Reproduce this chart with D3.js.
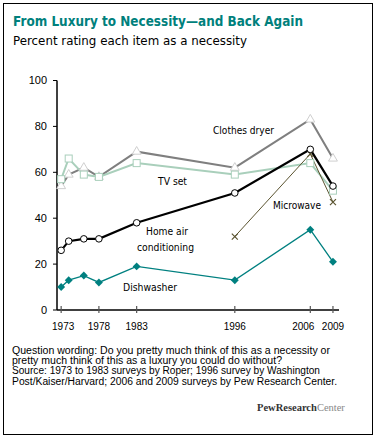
<!DOCTYPE html>
<html><head><meta charset="utf-8">
<script src="https://cdn.jsdelivr.net/npm/d3@7"></script>
<style>body{margin:0;background:#fff}svg{display:block}</style>
</head><body>
<svg id="c" width="378" height="438"></svg>
<script>
const years = [1973, 1974, 1976, 1978, 1983, 1996, 2006, 2009];
const tickYears = [1973, 1978, 1983, 1996, 2006, 2009];
const yTicks = [0, 20, 40, 60, 80, 100];
const clothesDryer = [54, 59, 62, 58, 69, 62, 83, 66];
const tvSet = [57, 66, 59, 58, 64, 59, 64, 52];
const homeAC = [26, 30, 31, 31, 38, 51, 70, 54];
const microwaveYears = [1996, 2006, 2009];
const microwave = [32, 68, 47];
const dishwasher = [10, 13, 15, 12, 19, 13, 35, 21];

const svg = d3.select("#c");
const x = d3.scaleLinear().domain([1972.45, 2009.8]).range([57, 339]);
const y = d3.scaleLinear().domain([0, 100]).range([310, 80.5]);

svg.append("rect").attr("x", 3.5).attr("y", 3.5).attr("width", 369).attr("height", 431)
  .attr("fill", "none").attr("stroke", "#000").attr("stroke-width", 1);

svg.append("text").attr("x", 13).attr("y", 26).text("From Luxury to Necessity\u2014and Back Again")
  .attr("font-family", "DejaVu Sans").attr("font-weight", "bold").attr("font-size", 14)
  .attr("fill", "#00807c").attr("textLength", 290).attr("lengthAdjust", "spacingAndGlyphs");
svg.append("text").attr("x", 13).attr("y", 45).text("Percent rating each item as a necessity")
  .attr("font-family", "DejaVu Sans").attr("font-size", 12.5).attr("fill", "#000")
  .attr("textLength", 234).attr("lengthAdjust", "spacingAndGlyphs");

// axes
const g = svg.append("g");
g.append("line").attr("x1", 57).attr("x2", 57).attr("y1", y(100)).attr("y2", y(0)).attr("stroke", "#000").attr("stroke-width", 1.5);
g.append("line").attr("x1", 57).attr("x2", 339).attr("y1", y(0)).attr("y2", y(0)).attr("stroke", "#000").attr("stroke-width", 1.5);
yTicks.forEach(t => {
  g.append("line").attr("x1", 53).attr("x2", 57).attr("y1", y(t)).attr("y2", y(t)).attr("stroke", "#000");
  g.append("text").attr("x", 47).attr("y", y(t)).attr("dy", "0.35em").attr("text-anchor", "end")
    .attr("font-family", "Liberation Sans").attr("font-size", 11).text(t);
});
tickYears.forEach(t => {
  g.append("line").attr("x1", x(t)).attr("x2", x(t)).attr("y1", y(0) - 4).attr("y2", y(0) + 3).attr("stroke", "#555").attr("stroke-width", 1.2);
  const off = t === 2006 ? -7 : (t === 1973 ? 2 : 0);
  g.append("text").attr("x", x(t) + off).attr("y", 330).attr("text-anchor", "middle")
    .attr("font-family", "Liberation Sans").attr("font-size", 10).text(t);
});

const line = d3.line().x(d => x(d[0])).y(d => y(d[1]));
function series(xs, vals, color, width) {
  const pts = xs.map((yr, i) => [yr, vals[i]]);
  svg.append("path").attr("d", line(pts)).attr("fill", "none").attr("stroke", color).attr("stroke-width", width);
  return pts;
}
const cd = series(years, clothesDryer, "#7f7f7f", 2);
const tv = series(years, tvSet, "#a9cfbb", 2);
const mw = series(microwaveYears, microwave, "#5b5430", 1);
const ac = series(years, homeAC, "#000", 2.2);
const dw = series(years, dishwasher, "#008080", 1.3);

const tri = d3.symbol().type(d3.symbolTriangle).size(34);
svg.selectAll(".tri").data(cd).join("path").attr("transform", d => `translate(${x(d[0])},${y(d[1])})`)
  .attr("d", tri).attr("fill", "#fff").attr("stroke", "#cfcfcf").attr("stroke-width", 1);
svg.selectAll(".sq").data(tv).join("rect").attr("x", d => x(d[0]) - 3.5).attr("y", d => y(d[1]) - 3.5)
  .attr("width", 7).attr("height", 7).attr("fill", "#fff").attr("stroke", "#a9cfbb").attr("stroke-width", 1);
svg.selectAll(".xm").data(mw).join("path").attr("d", d => {
  const cx = x(d[0]), cy = y(d[1]), s = 3;
  return `M${cx - s},${cy - s}L${cx + s},${cy + s}M${cx - s},${cy + s}L${cx + s},${cy - s}`;
}).attr("stroke", "#5b5430").attr("stroke-width", 1.2);
svg.selectAll(".ci").data(ac).join("circle").attr("cx", d => x(d[0])).attr("cy", d => y(d[1])).attr("r", 3.3)
  .attr("fill", "#fff").attr("stroke", "#000").attr("stroke-width", 1);
const dia = d3.symbol().type(d3.symbolDiamond2).size(40);
svg.selectAll(".di").data(dw).join("path").attr("transform", d => `translate(${x(d[0])},${y(d[1])})`)
  .attr("d", dia).attr("fill", "#008080");

const labels = [
  ["Clothes dryer", 213, 134, 61],
  ["TV set", 158, 185, 29],
  ["Home air", 146, 235, 42],
  ["conditioning", 137, 251, 57],
  ["Microwave", 273, 209, 48],
  ["Dishwasher", 123, 291, 54]
];
labels.forEach(l => svg.append("text").attr("x", l[1]).attr("y", l[2]).text(l[0])
  .attr("font-family", "DejaVu Sans").attr("font-size", 10).attr("fill", "#000")
  .attr("textLength", l[3]).attr("lengthAdjust", "spacingAndGlyphs"));

const notes = [
  "Question wording: Do you pretty much think of this as a necessity or",
  "pretty much think of this as a luxury you could do without?",
  "Source: 1973 to 1983 surveys by Roper; 1996 survey by Washington",
  "Post/Kaiser/Harvard; 2006 and 2009 surveys by Pew Research Center."
];
const noteW = [318, 270, 308, 325];
notes.forEach((n, i) => svg.append("text").attr("x", 12).attr("y", 353.5 + i * 10.4).text(n)
  .attr("font-family", "Liberation Sans").attr("font-size", 10).attr("fill", "#000")
  .attr("textLength", noteW[i]).attr("lengthAdjust", "spacingAndGlyphs"));

const logo = svg.append("text").attr("x", 257).attr("y", 411).attr("font-family", "Liberation Serif").attr("font-size", 10.5);
logo.append("tspan").attr("font-weight", "bold").attr("fill", "#333").text("PewResearch");
logo.append("tspan").attr("fill", "#888").text("Center");
</script>
</body></html>
